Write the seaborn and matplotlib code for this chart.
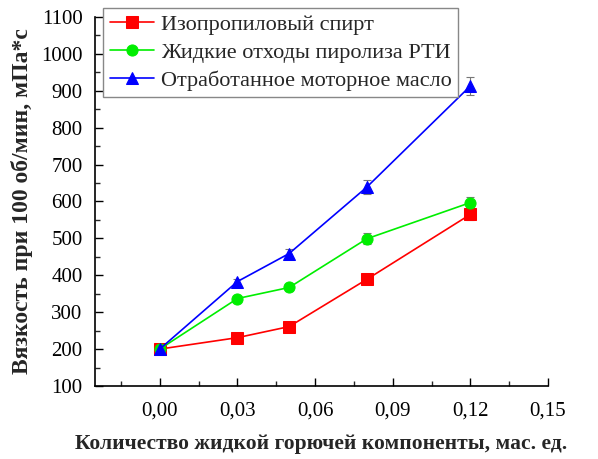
import matplotlib
matplotlib.use("Agg")
import matplotlib.pyplot as plt
import seaborn as sns
import numpy as np
from matplotlib.ticker import MultipleLocator, FuncFormatter

x_vals = [0.00, 0.03, 0.05, 0.08, 0.12]
labels = ["Изопропиловый спирт", "Жидкие отходы пиролиза РТИ", "Отработанное моторное масло"]
red_vals = [200, 231, 261, 389, 565]
green_vals = [200, 337, 367, 499, 597]
blue_vals = [200, 383, 459, 639, 913]
red_err = [6, 6, 6, 8, 15]
green_err = [6, 8, 10, 15, 15]
blue_err = [8, 8, 12, 18, 25]
colors = ["#ff0000", "#00ee00", "#0000ff"]
markers = ["s", "o", "^"]

sns.set_style("ticks")
plt.rcParams['font.family'] = ['Liberation Serif', 'DejaVu Serif']

fig = plt.figure(figsize=(5.98, 4.59), dpi=100)
ax = fig.add_axes([95/598, 1-386/459, (548-95)/598, (386-17)/459])

series = [red_vals, green_vals, blue_vals]
errs = [red_err, green_err, blue_err]
for vals, err, c, m, lab in zip(series, errs, colors, markers, labels):
    ax.errorbar(x_vals, vals, yerr=err, fmt='none', ecolor='#777777',
                elinewidth=0.8, capsize=3, capthick=0.8, zorder=2)
    sns.lineplot(x=x_vals, y=vals, ax=ax, color=c, marker=m, markersize=8,
                 markeredgecolor=c, linewidth=1.2, label=lab, zorder=3)

ax.set_xlim(-0.025, 0.15)
ax.set_ylim(100, 1100)
ax.xaxis.set_major_locator(MultipleLocator(0.03))
ax.xaxis.set_minor_locator(MultipleLocator(0.015))
ax.yaxis.set_major_locator(MultipleLocator(100))
ax.yaxis.set_minor_locator(MultipleLocator(50))
ax.xaxis.set_major_formatter(FuncFormatter(lambda v, p: f"{v:.2f}".replace('.', ',').replace('-0,00', '0,00')))
ax.tick_params(axis='both', which='major', direction='in', length=6, width=1, labelsize=15, colors='black')
ax.tick_params(axis='both', which='minor', direction='in', length=3.5, width=1)
ax.tick_params(axis='x', pad=11)
ax.tick_params(axis='y', pad=9)
for s in ['top', 'right']:
    ax.spines[s].set_visible(False)
for s in ['left', 'bottom']:
    ax.spines[s].set_linewidth(1.2)
    ax.spines[s].set_color('black')

ax.set_xlabel("Количество жидкой горючей компоненты, мас. ед.", fontsize=15.5, fontweight='bold', labelpad=10)
ax.set_ylabel("Вязкость при 100 об/мин, мПа*с", fontsize=17, fontweight='bold', labelpad=6)

leg = ax.legend(loc='upper left', bbox_to_anchor=(103/598, 1-8/459), bbox_transform=fig.transFigure,
                fontsize=16, frameon=True, fancybox=False, borderpad=0.3, labelspacing=0.32,
                handlelength=2.0, handletextpad=0.3, borderaxespad=0)
leg.get_frame().set_edgecolor('#888888')
leg.get_frame().set_linewidth(1.0)
leg.get_frame().set_alpha(1)

fig.savefig("out.png", dpi=100)
